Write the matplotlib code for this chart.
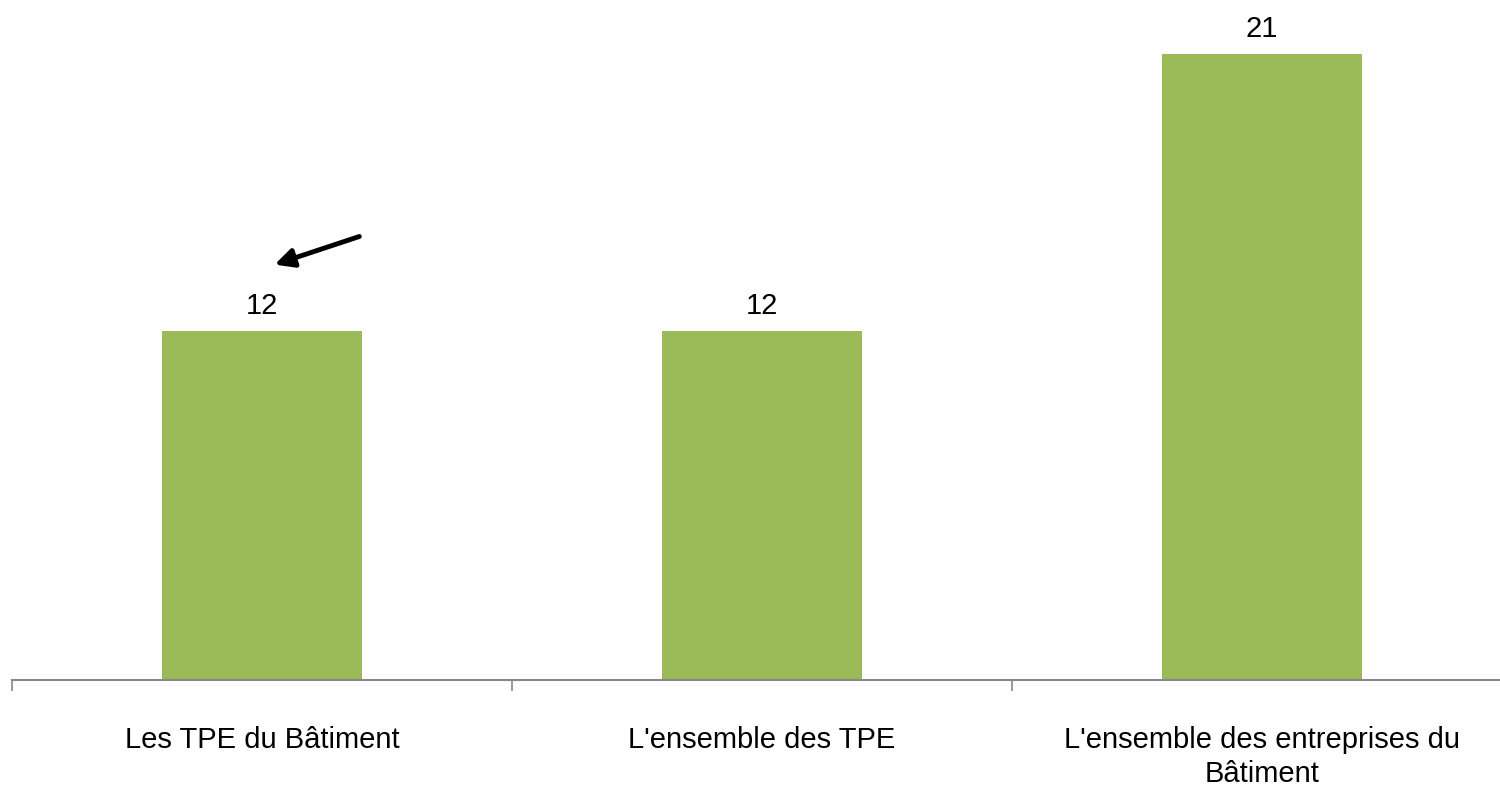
import numpy as np
import matplotlib.pyplot as plt

categories = ["Les TPE du Bâtiment", "L'ensemble des TPE",
              "L'ensemble des entreprises du\nBâtiment"]
values = [11.7, 11.7, 21]
labels = ["12", "12", "21"]

plt.rcParams['font.family'] = ['Liberation Sans', 'DejaVu Sans']

fig = plt.figure(figsize=(15, 7.91), dpi=100)
ax = fig.add_axes([12 / 1500, 111 / 791, 1500 / 1500, 680 / 791])

x = np.arange(len(categories))
ax.bar(x, values, width=0.4, color="#9BBB59")

for xi, v, lab in zip(x, values, labels):
    ax.annotate(lab, (xi, v), xytext=(0, 8), textcoords="offset points",
                ha="center", va="bottom", fontsize=21)

ax.set_xlim(-0.5, 2.5)
ax.set_ylim(0, 22.8)

ax.set_xticks(x)
ax.set_xticklabels(categories, fontsize=21, linespacing=1.3)
ax.tick_params(axis="x", which="major", length=0, pad=33)
ax.set_xticks(np.arange(-0.5, 3.0, 1.0), minor=True)
ax.tick_params(axis="x", which="minor", length=8, color="#888888", width=1.2)

ax.set_yticks([])
for s in ["top", "right", "left"]:
    ax.spines[s].set_visible(False)
ax.spines["bottom"].set_color("#888888")
ax.spines["bottom"].set_linewidth(1.5)

# arrow pointing at the first bar label
ax.annotate("", xy=(0.02, 13.9), xytext=(0.2, 14.9),
            arrowprops=dict(arrowstyle="-|>", color="black", lw=3.5,
                            mutation_scale=28))

fig.savefig("out.png", dpi=100)
